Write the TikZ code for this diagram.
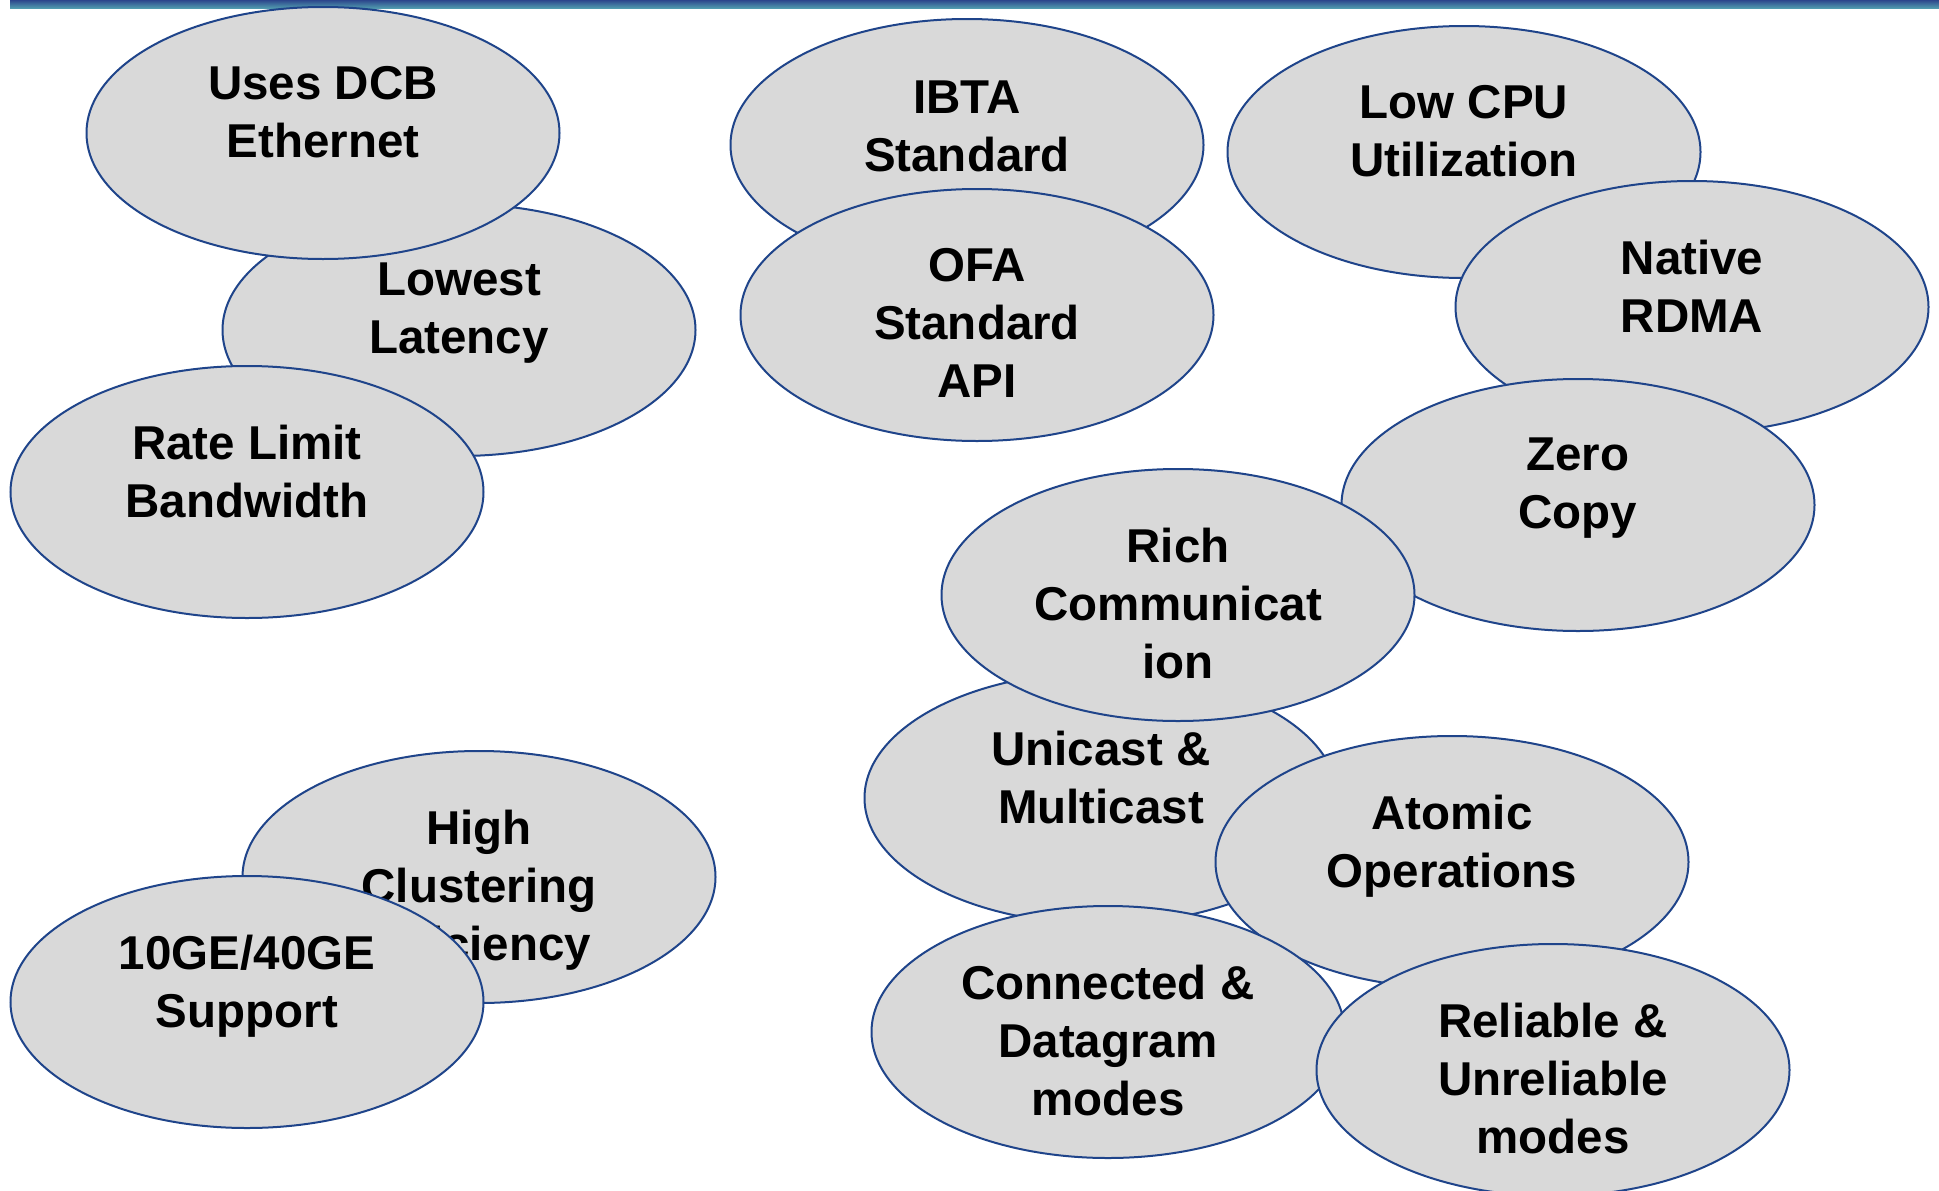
\documentclass[tikz,border=0pt]{standalone}
\usepackage{fontspec}
\setmainfont{Liberation Sans}
\usetikzlibrary{shapes.geometric}
\definecolor{rim}{RGB}{31,68,138}
\definecolor{bubfill}{RGB}{217,217,217}
\definecolor{bartop}{RGB}{44,70,140}
\definecolor{barbot}{RGB}{80,154,174}
\tikzset{
  bub/.style={ellipse, draw=rim, fill=bubfill, line width=2pt,
    minimum width=473pt, minimum height=252pt, inner sep=0pt},
  btxt/.style={anchor=north, align=center, inner sep=0pt,
    font=\bfseries\fontsize{47.5}{58}\selectfont, text=black},
}
% one bubble: ellipse, then its caption hung from a fixed height above the centre
\newcommand\bubble[4][0]{%
  \node[bub] (#2) at (#3) {};
  \node[btxt] (#2-t) at ([yshift=67pt-#1pt]#2.center) {#4};}
\begin{document}
\begin{tikzpicture}[x=1pt,y=-1pt]
\useasboundingbox (0,0) rectangle (1939,1191);
% header rule
\shade[top color=bartop, bottom color=barbot] (10,0) rectangle (1939,8);

% left cluster
\bubble{lat}{459,330}{Lowest\\Latency}
\bubble{dcb}{323,133}{Uses DCB\\Ethernet}
\bubble{rate}{247,492}{Rate Limit\\Bandwidth}

% standards
\bubble[3]{ibta}{967,145}{IBTA\\Standard}
\bubble{ofa}{977,315}{OFA\\Standard\\API}

% right cluster
\bubble{cpu}{1464,152}{Low CPU\\Utilization}
\bubble{rdma}{1692,307}{Native\\RDMA}
\bubble{zero}{1578,505}{Zero\\Copy}

% transport features
\bubble{uni}{1101,798}{Unicast \&\\Multicast}
\bubble{rich}{1178,595}{Rich\\Communicat\\ion}
\bubble{atom}{1452,862}{Atomic\\Operations}
\bubble{conn}{1108,1032}{Connected \&\\Datagram\\modes}
\bubble{rel}{1553,1070}{Reliable \&\\Unreliable\\modes}

% lower left
\bubble{high}{479,877}{High\\Clustering\\Efficiency}
\bubble{ge}{247,1002}{10GE/40GE\\Support}
\end{tikzpicture}
\end{document}
